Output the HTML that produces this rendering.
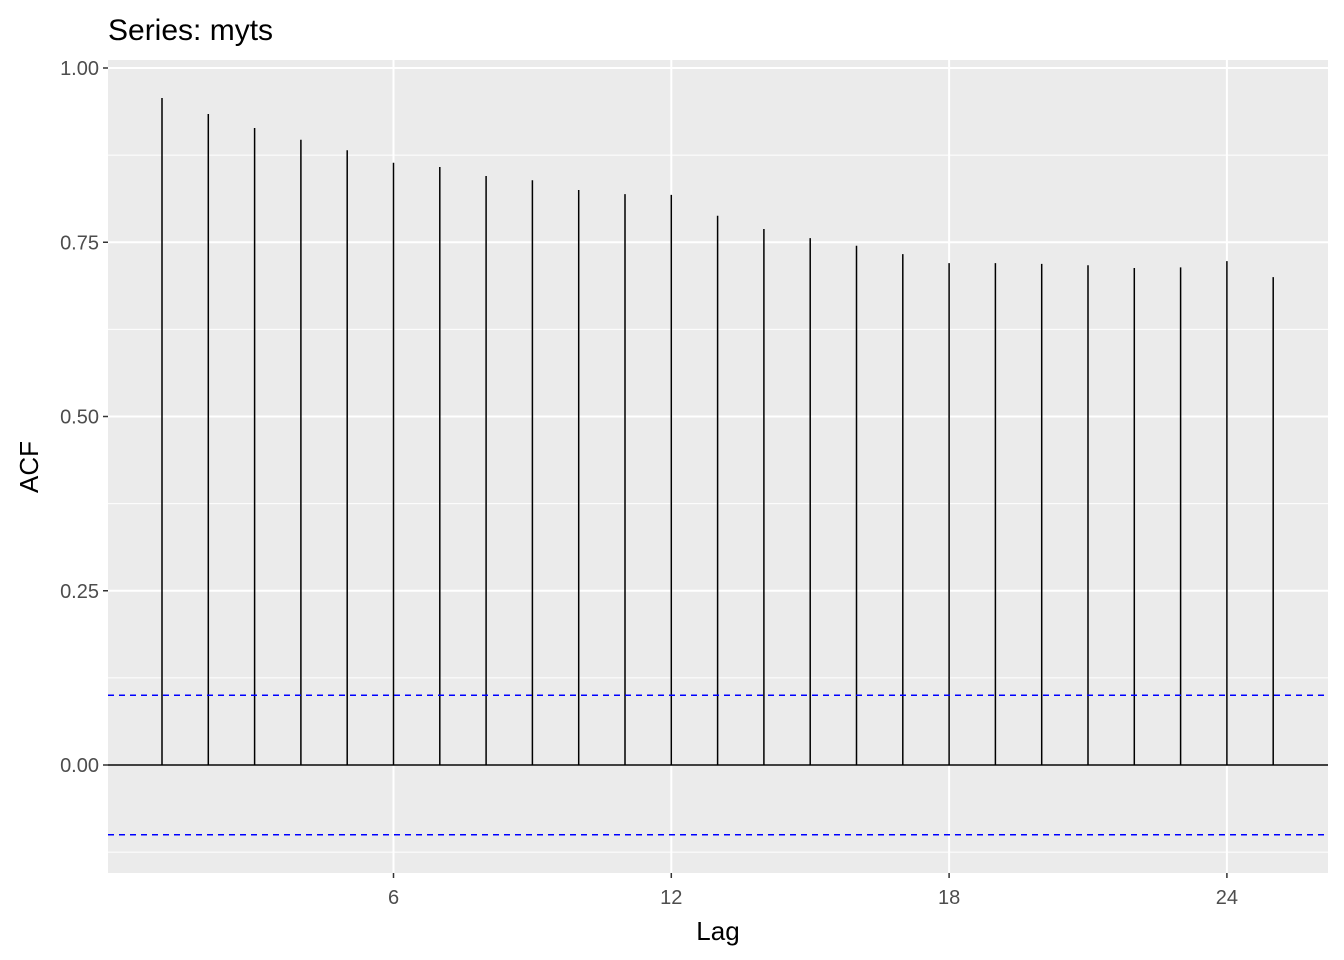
<!DOCTYPE html>
<html><head><meta charset="utf-8"><style>
html,body{margin:0;padding:0;background:#fff;}
svg{display:block;font-family:"Liberation Sans",Arial,sans-serif;}
</style></head><body>
<svg id="chart" width="1344" height="960" xmlns="http://www.w3.org/2000/svg">
<rect x="0" y="0" width="1344" height="960" fill="#fff"/>
<text x="108" y="40" font-size="30" fill="#000">Series: myts</text>
<rect x="108" y="60" width="1220" height="813" fill="#ebebeb"/>
<g id="grid"></g>
<g id="marks"></g>
<g id="axes"></g>
<text x="718" y="940" font-size="26" text-anchor="middle" fill="#000">Lag</text>
<text transform="translate(38,467) rotate(-90)" font-size="26" text-anchor="middle" fill="#000">ACF</text>
</svg>
<script>
const lags = [1,2,3,4,5,6,7,8,9,10,11,12,13,14,15,16,17,18,19,20,21,22,23,24,25];
const acfValues = [0.957,0.934,0.914,0.897,0.882,0.864,0.858,0.845,0.839,0.825,0.819,0.818,0.788,0.769,0.756,0.745,0.733,0.720,0.720,0.719,0.717,0.713,0.714,0.723,0.700];
const confLimit = 0.1;
const xTicks = [6,12,18,24];
const yTicks = [0,0.25,0.5,0.75,1.0];
const yTickLabels = ["0.00","0.25","0.50","0.75","1.00"];
const yMinor = [-0.125,0.125,0.375,0.625,0.875];

const NS="http://www.w3.org/2000/svg";
const x = v => 393.5 + (v-6)*46.3;
const y = v => 765 - v*697;
const L=108, R=1328, T=60, B=873;
function mk(tag, attrs, parent){const e=document.createElementNS(NS,tag);for(const k in attrs)e.setAttribute(k,attrs[k]);parent.appendChild(e);return e;}
const grid=document.getElementById('grid'), marks=document.getElementById('marks'), axes=document.getElementById('axes');
yMinor.forEach(v=>{const e=mk('line',{x1:L,x2:R,y1:y(v),y2:y(v),stroke:'#fff','stroke-width':1},grid);

});
yTicks.forEach((v,i)=>{const e=mk('line',{x1:L,x2:R,y1:y(v),y2:y(v),stroke:'#fff','stroke-width':2},grid);


const t=mk('line',{x1:L-5,x2:L,y1:y(v),y2:y(v),stroke:'#333','stroke-width':1.5},axes);


const lb=mk('text',{x:L-9,y:y(v)+7,'font-size':20,'text-anchor':'end',fill:'#4d4d4d'},axes);lb.textContent=yTickLabels[i];

});
xTicks.forEach(v=>{const e=mk('line',{x1:x(v),x2:x(v),y1:T,y2:B,stroke:'#fff','stroke-width':2},grid);


const t=mk('line',{x1:x(v),x2:x(v),y1:B,y2:B+5,stroke:'#333','stroke-width':1.5},axes);


const lb=mk('text',{x:x(v),y:B+31,'font-size':20,'text-anchor':'middle',fill:'#4d4d4d'},axes);lb.textContent=v;

});
const zl=mk('line',{x1:L,x2:R,y1:y(0),y2:y(0),stroke:'#000','stroke-width':1.5},marks);


lags.forEach((l,i)=>{const e=mk('line',{x1:x(l),x2:x(l),y1:y(0),y2:y(acfValues[i]),stroke:'#000','stroke-width':1.5},marks);

});
[confLimit,-confLimit].forEach(v=>{const e=mk('line',{x1:L,x2:R,y1:y(v),y2:y(v),stroke:'#0000ff','stroke-width':1.5,'stroke-dasharray':'6,5'},marks);

});
</script>
</body></html>
